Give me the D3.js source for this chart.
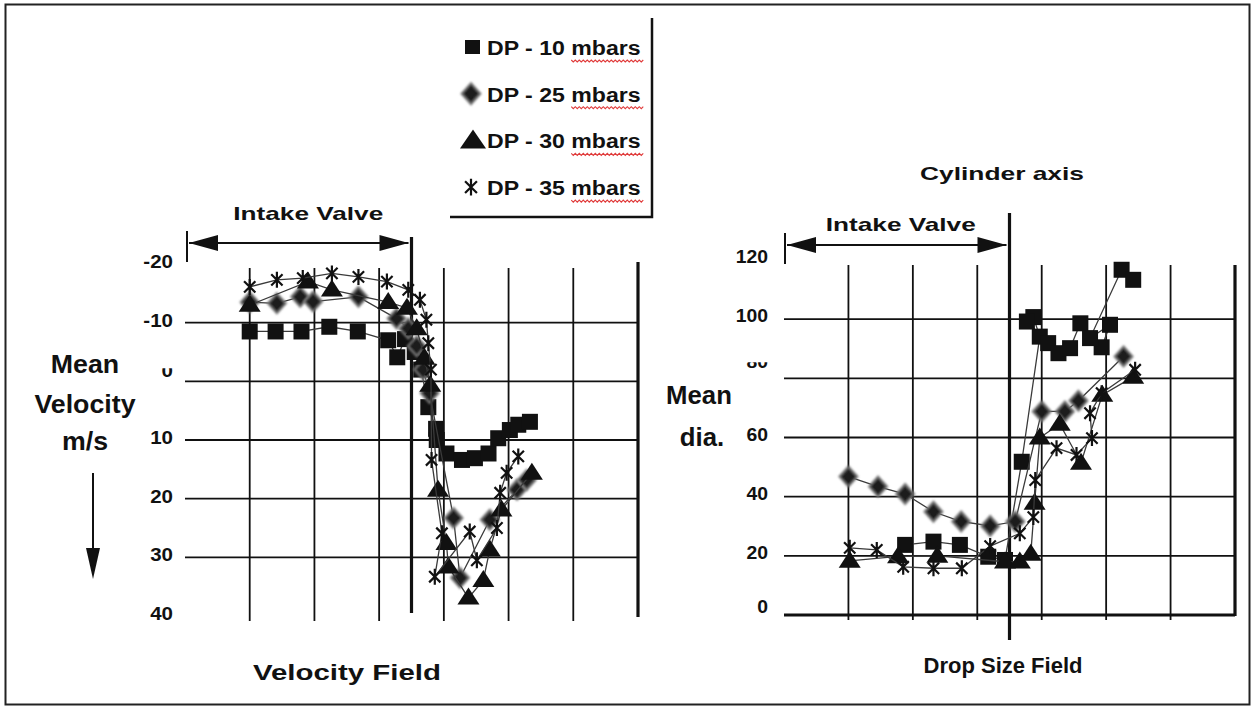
<!DOCTYPE html>
<html><head><meta charset="utf-8">
<script src="https://cdn.jsdelivr.net/npm/d3@7"></script>
<style>
html,body{margin:0;padding:0;background:#fff;}
svg{display:block;}
text{font-family:"Liberation Sans",Arial,Helvetica,sans-serif;fill:#111;}
</style></head><body>
<svg id="c" width="1255" height="709"></svg>
<script>
// ---- series -------------------------------------------------------------
const seriesNames  = ["DP - 10 mbars", "DP - 25 mbars", "DP - 30 mbars", "DP - 35 mbars"];
const seriesShapes = ["square", "diamond", "triangle", "star"];

// Velocity field: radial position (mm) and mean velocity (m/s, downward positive)
const velPos10 = [0, 4, 8, 12.3, 16.7, 21.4, 22.8, 24, 25.5, 26.5, 27.6, 28.8, 28.9, 30.4, 32.8, 34.8, 36.9, 38.4, 40.2, 41.5, 43.3];
const vel10    = [-8.5, -8.5, -8.5, -9.3, -8.5, -7, -4.1, -7.2, -5, -2, 4.4, 8.1, 10, 12.3, 13.4, 13.1, 12.3, 9.7, 8.3, 7.4, 6.9];
const velPos25 = [0, 4.2, 7.8, 9.8, 16.8, 22.7, 24.5, 25.8, 26.8, 27.8, 31.5, 32.5, 37.1, 41.3, 42.8];
const vel25    = [-13.5, -13.3, -14.4, -13.6, -14.4, -10.7, -9, -6, -2, 2, 23.3, 33.5, 23.6, 18.5, 16.8];
const velPos30 = [0, 9, 12.7, 21.4, 24.3, 25.8, 27, 27.9, 29.1, 30.4, 30.7, 33.8, 36.1, 37.1, 38.9, 43.6];
const vel30    = [-13, -17, -15.6, -13.5, -12.5, -9, -4, 0.6, 18.5, 27.6, 31.6, 36.9, 33.9, 28.7, 21.9, 15.6];
const velPos35 = [0, 4.2, 8.2, 12.7, 16.8, 21.2, 24.5, 26.3, 27.3, 27.6, 28, 28.1, 29.7, 28.6, 34, 35.1, 38.2, 38.7, 39.7, 41.5];
const vel35    = [-16.1, -17.3, -17.6, -18.4, -17.8, -17, -15.6, -13.9, -10.5, -6.5, -2, 13.4, 25.9, 33.3, 25.6, 30.5, 25, 19, 15.6, 12.8];

// Drop size field: radial position (mm) and mean diameter (µm)
const diaPos10 = [8.8, 13.2, 17.3, 21.7, 24.3, 26.9, 29.7, 28.7, 27.7, 31, 32.6, 34.4, 36, 39.3, 40.6, 37.5, 42.4, 44.2];
const dia10    = [23.7, 24.8, 23.7, 19.7, 18.6, 51.8, 94.1, 100.7, 99.2, 91.9, 88.5, 90.2, 98.6, 90.5, 98.1, 93.6, 116.7, 113.3];
const diaPos25 = [0, 4.6, 8.8, 13.2, 17.5, 22, 25.9, 30, 33.6, 35.7, 42.7];
const dia25    = [46.8, 43.4, 40.9, 34.9, 31.6, 30.1, 31.6, 68.8, 68.8, 72.4, 87.4];
const diaPos30 = [0.2, 7.7, 13.8, 24.3, 26.6, 28.3, 28.9, 29.7, 32.8, 36.1, 39.4, 44.2];
const dia30    = [18.3, 19.8, 20, 18, 18, 20.6, 37.9, 59.9, 64.6, 51.4, 74.4, 80.5];
const diaPos35 = [0.2, 4.4, 8.5, 13.2, 17.6, 22, 26.6, 28.7, 29, 32.3, 35.4, 37.8, 37.5, 39.3, 44.5];
const dia35    = [22.7, 22, 16.3, 15.8, 15.8, 23.3, 27.6, 33.1, 45.6, 56.4, 54.1, 59.8, 68.2, 75, 82.9];

// axis ticks
const velTicks   = [-20, -10, 0, 10, 20, 30, 40];
const velGridY   = [-10, 0, 10, 20, 30];
const diaTicks   = [0, 20, 40, 60, 80, 100, 120];
const diaGridY   = [20, 40, 60, 80, 100];
const posGridX   = [0, 10, 20, 30, 40, 50];
const cylinderAxis = 25;
const valveFrom    = -10;

// ---- scales -------------------------------------------------------------
const velX = d3.scaleLinear([-10, 60], [185, 638]);
const velY = d3.scaleLinear([-20, 40], [264, 616]);
const diaX = d3.scaleLinear([-10, 60], [784, 1235]);
const diaY = d3.scaleLinear([0, 120], [615, 260]);

const svg = d3.select("#c");
const INK = "#111";

const defs = svg.append("defs");
defs.append("filter").attr("id", "soft").attr("x", "-30%").attr("y", "-30%").attr("width", "160%").attr("height", "160%")
  .append("feGaussianBlur").attr("stdDeviation", 0.9);

// outer frame
svg.append("rect").attr("x", 5.5).attr("y", 4.5).attr("width", 1244).attr("height", 700)
  .attr("fill", "none").attr("stroke", "#222").attr("stroke-width", 2);

// text helper (slightly wide lettering, or fitted to a given length)
function label(g, x, y, s, size, opt = {}) {
  const t = g.append("text")
    .attr("transform", `translate(${x},${y}) scale(${opt.len ? 1 : (opt.sx || 1.1)},1)`)
    .attr("font-size", size)
    .attr("font-weight", opt.weight || "bold")
    .attr("text-anchor", opt.anchor || "start")
    .text(s);
  if (opt.len) t.attr("textLength", opt.len).attr("lengthAdjust", "spacingAndGlyphs");
  return t;
}

// marker shapes
function marker(g, shape, x, y, k = 1) {
  if (shape === "square") {
    const s = 16 * k;
    g.append("rect").attr("x", x - s / 2).attr("y", y - s / 2).attr("width", s).attr("height", s).attr("fill", INK);
  } else if (shape === "diamond") {
    const w = 9 * k, h = 10 * k;
    g.append("path").attr("d", `M${x},${y - h}L${x + w},${y}L${x},${y + h}L${x - w},${y}Z`)
      .attr("fill", "#1a1a1a").attr("stroke", "#777").attr("stroke-width", 2).attr("filter", "url(#soft)");
  } else if (shape === "triangle") {
    const w = 11 * k, h = 17 * k;
    g.append("path").attr("d", `M${x},${y - h * 0.6}L${x + w},${y + h * 0.4}L${x - w},${y + h * 0.4}Z`).attr("fill", INK);
  } else {
    const r = 8 * k, a = Math.cos(Math.PI / 4) * r;
    g.append("path").attr("d", `M${x},${y - r}V${y + r}M${x - a},${y - a}L${x + a},${y + a}M${x + a},${y - a}L${x - a},${y + a}`)
      .attr("stroke", INK).attr("stroke-width", 2.2).attr("fill", "none");
  }
}

function drawSeries(g, xs, ys, sx, sy, shape) {
  const pts = xs.map((v, i) => [sx(v), sy(ys[i])]);
  g.append("path").attr("d", d3.line()(pts)).attr("fill", "none").attr("stroke", "#3a3a3a").attr("stroke-width", 1.3);
  pts.forEach(p => marker(g, shape, p[0], p[1]));
}

function arrowH(g, x0, x1, y) {
  g.append("line").attr("x1", x0).attr("x2", x1).attr("y1", y).attr("y2", y).attr("stroke", INK).attr("stroke-width", 2);
  g.append("path").attr("d", `M${x0},${y}L${x0 + 29},${y - 8}L${x0 + 29},${y + 8}Z`).attr("fill", INK);
  g.append("path").attr("d", `M${x1},${y}L${x1 - 29},${y - 8}L${x1 - 29},${y + 8}Z`).attr("fill", INK);
  g.append("line").attr("x1", x0 - 2).attr("x2", x0 - 2).attr("y1", y - 12).attr("y2", y + 19).attr("stroke", INK).attr("stroke-width", 2);
}

// ---- left panel: velocity field -------------------------------------------
const L = svg.append("g");
posGridX.forEach(v => L.append("line").attr("x1", velX(v)).attr("x2", velX(v)).attr("y1", 268).attr("y2", 621)
  .attr("stroke", INK).attr("stroke-width", 1.8));
velGridY.forEach(v => L.append("line").attr("x1", velX(-10)).attr("x2", velX(60)).attr("y1", velY(v)).attr("y2", velY(v))
  .attr("stroke", INK).attr("stroke-width", 1.8));
L.append("line").attr("x1", velX(60)).attr("x2", velX(60)).attr("y1", 262).attr("y2", 617).attr("stroke", INK).attr("stroke-width", 3.2);
L.append("line").attr("x1", velX(cylinderAxis)).attr("x2", velX(cylinderAxis)).attr("y1", 237).attr("y2", 613).attr("stroke", INK).attr("stroke-width", 3.2);

// the zero label is partly hidden behind the plot frame
defs.append("clipPath").attr("id", "clip0")
  .append("rect").attr("x", 100).attr("y", velY(0) - 13).attr("width", 100).attr("height", 30);
velTicks.forEach(v => {
  const holder = v === 0 ? L.append("g").attr("clip-path", "url(#clip0)") : L;
  label(holder, 173, velY(v) + (v === 0 ? -4 : 4), String(v), 19, { anchor: "end", sx: 1.08 });
});

arrowH(L, velX(valveFrom) + 4, velX(cylinderAxis) - 3, 243);
label(L, velX(7.5) + 10, 220, "Intake  Valve", 19, { anchor: "middle", len: 150 });

label(L, 85, 373, "Mean", 25, { anchor: "middle", sx: 1.07 });
label(L, 85, 413, "Velocity", 25, { anchor: "middle", sx: 1.07 });
label(L, 85, 450, "m/s", 25, { anchor: "middle", sx: 1.07 });
L.append("line").attr("x1", 93).attr("x2", 93).attr("y1", 473).attr("y2", 552).attr("stroke", INK).attr("stroke-width", 2);
L.append("path").attr("d", "M86,548L100,548L93,579Z").attr("fill", INK);

label(L, 347, 680, "Velocity Field", 22, { anchor: "middle", len: 188 });

drawSeries(L, velPos10, vel10, velX, velY, "square");
drawSeries(L, velPos25, vel25, velX, velY, "diamond");
drawSeries(L, velPos30, vel30, velX, velY, "triangle");
drawSeries(L, velPos35, vel35, velX, velY, "star");

// ---- right panel: drop size field -----------------------------------------
const R = svg.append("g");
posGridX.forEach(v => R.append("line").attr("x1", diaX(v)).attr("x2", diaX(v)).attr("y1", 265).attr("y2", 620)
  .attr("stroke", INK).attr("stroke-width", 1.8));
diaGridY.forEach(v => R.append("line").attr("x1", diaX(-10)).attr("x2", diaX(60)).attr("y1", diaY(v)).attr("y2", diaY(v))
  .attr("stroke", INK).attr("stroke-width", 1.8));
R.append("line").attr("x1", diaX(-10)).attr("x2", diaX(60)).attr("y1", diaY(0)).attr("y2", diaY(0)).attr("stroke", INK).attr("stroke-width", 3.2);
R.append("line").attr("x1", diaX(60)).attr("x2", diaX(60)).attr("y1", 265).attr("y2", 616).attr("stroke", INK).attr("stroke-width", 3.2);
R.append("line").attr("x1", diaX(cylinderAxis)).attr("x2", diaX(cylinderAxis)).attr("y1", 213).attr("y2", 640).attr("stroke", INK).attr("stroke-width", 3.2);

// the 80 label is partly hidden as well
defs.append("clipPath").attr("id", "clip80")
  .append("rect").attr("x", 700).attr("y", diaY(80) - 16).attr("width", 100).attr("height", 30);
diaTicks.forEach(v => {
  const holder = v === 80 ? R.append("g").attr("clip-path", "url(#clip80)") : R;
  label(holder, 768, diaY(v) + 3 - (v === 80 ? 13 : 0) - (v === 0 ? 5 : 0), String(v), 19, { anchor: "end", sx: 1.02 });
});

arrowH(R, diaX(valveFrom) + 3, diaX(cylinderAxis) - 3, 245);
label(R, diaX(7.5) + 4, 231, "Intake  Valve", 19, { anchor: "middle", len: 150 });
label(R, 1002, 180, "Cylinder axis", 19, { anchor: "middle", len: 164 });

label(R, 699, 404, "Mean", 25, { anchor: "middle", sx: 1.03 });
label(R, 702, 446, "dia.", 25, { anchor: "middle", sx: 1.03 });

label(R, 1003, 673, "Drop Size Field", 22, { anchor: "middle", sx: 1.0 });

drawSeries(R, diaPos10, dia10, diaX, diaY, "square");
drawSeries(R, diaPos25, dia25, diaX, diaY, "diamond");
drawSeries(R, diaPos30, dia30, diaX, diaY, "triangle");
drawSeries(R, diaPos35, dia35, diaX, diaY, "star");

// ---- legend ---------------------------------------------------------------
const G = svg.append("g");
G.append("path").attr("d", "M450,217H652V18").attr("fill", "none").attr("stroke", INK).attr("stroke-width", 2.5);
seriesNames.forEach((name, i) => {
  const yb = 55 + i * 46.7;
  const mx = 473, my = yb - 8;
  const shape = seriesShapes[i];
  if (shape === "square") G.append("rect").attr("x", mx - 8).attr("y", my - 7).attr("width", 15).attr("height", 14).attr("fill", INK);
  else if (shape === "triangle") G.append("path").attr("d", `M${mx},${my - 11}L${mx + 13},${my + 8}L${mx - 13},${my + 8}Z`).attr("fill", INK);
  else marker(G, shape, mx - 2, my, 1.05);
  const parts = name.split(" mbars");
  const t = G.append("text").attr("transform", `translate(487,${yb}) scale(1.1,1)`)
    .attr("font-size", 21).attr("font-weight", "bold");
  t.append("tspan").text(parts[0] + " ");
  t.append("tspan").text("mbars");
  // spell-check style wavy underline under the unit
  const node = t.node();
  const start = node.getSubStringLength(0, parts[0].length + 1) * 1.1;
  const len = node.getSubStringLength(parts[0].length + 1, 5) * 1.1;
  let d = `M${487 + start},${yb + 5}`;
  for (let x = 0; x < len; x += 4) d += `l2,2l2,-2`;
  G.append("path").attr("d", d).attr("fill", "none").attr("stroke", "#e03a3a").attr("stroke-width", 1.1);
});
</script>
</body></html>
